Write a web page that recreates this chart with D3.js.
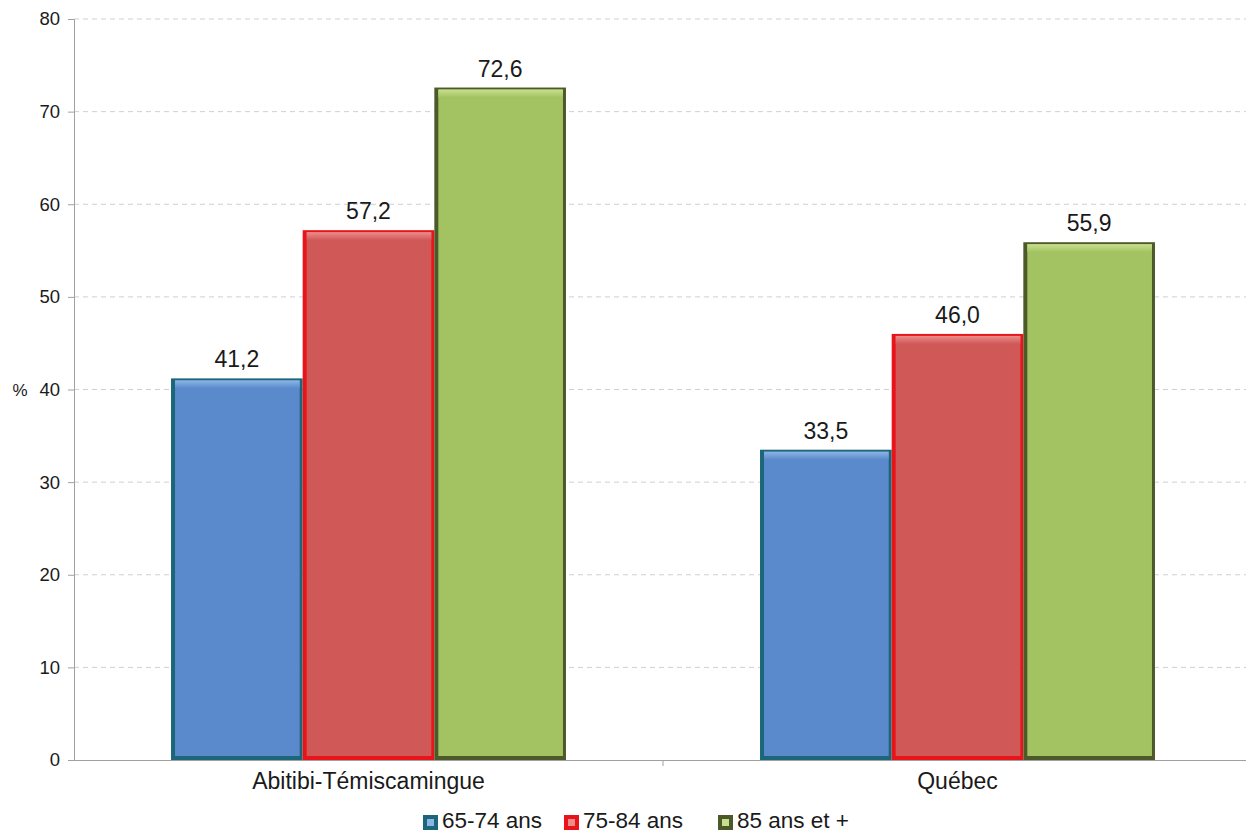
<!DOCTYPE html>
<html><head><meta charset="utf-8">
<script src="https://d3js.org/d3.v7.min.js"></script>
<style>body{margin:0;background:#fff;font-family:Arial,"Liberation Sans",sans-serif;}</style>
</head><body>
<svg id="c" width="1246" height="832"></svg>
<script>
const categories = ["Abitibi-Témiscamingue", "Québec"];
const seriesNames = ["65-74 ans", "75-84 ans", "85 ans et +"];
const values65 = [41.2, 33.5];
const values75 = [57.2, 46.0];
const values85 = [72.6, 55.9];
const yTicks = [0, 10, 20, 30, 40, 50, 60, 70, 80];

const series = [values65, values75, values85];
const fills = ["#5a8acb", "#d05958", "#a3c262"];
const borders = ["#1b6678", "#e8141a", "#4c5a2a"];
const lights = ["#8db4e6", "#ec8c8a", "#c8e08e"];
const FONT = "Arial, Liberation Sans, sans-serif";

const svg = d3.select("#c");
const m = {l: 74, r: 1252, t: 19, b: 760};
const x0 = d3.scaleBand().domain(categories).range([m.l, m.r]).paddingInner(0).paddingOuter(0);
const x1 = d3.scaleBand().domain(d3.range(3)).range([0, x0.bandwidth()]).paddingInner(0).paddingOuter(0.737);
const y = d3.scaleLinear().domain([0, 80]).range([m.b, m.t]);

const defs = svg.append("defs");
fills.forEach((f, i) => {
  const g = defs.append("linearGradient").attr("id", "top" + i).attr("x1", 0).attr("x2", 0).attr("y1", 0).attr("y2", 1);
  g.append("stop").attr("offset", 0).attr("stop-color", lights[i]);
  g.append("stop").attr("offset", 1).attr("stop-color", f);
});

// grid
svg.append("g").selectAll("line").data(yTicks.filter(d => d > 0)).join("line")
  .attr("x1", m.l).attr("x2", m.r).attr("y1", d => y(d)).attr("y2", d => y(d))
  .attr("stroke", "#d0d0d0").attr("stroke-dasharray", "5,4").attr("stroke-width", 1);

// y axis
const ya = svg.append("g").attr("transform", `translate(${m.l},0)`)
  .call(d3.axisLeft(y).tickValues(yTicks).tickSize(6).tickPadding(8).tickFormat(d3.format("d")));
ya.select(".domain").attr("stroke", "#a0a0a0");
ya.selectAll(".tick line").attr("stroke", "#a0a0a0");
ya.selectAll("text").attr("font-size", 18.5).attr("fill", "#1a1a1a").attr("font-family", FONT);

svg.append("text").attr("x", 20).attr("y", y(40) + 6).attr("text-anchor", "middle")
  .attr("font-size", 17).attr("font-family", FONT).attr("fill", "#1a1a1a").text("%");

// x axis
const xa = svg.append("g").attr("transform", `translate(0,${m.b})`)
  .call(d3.axisBottom(x0).tickSize(0).tickPadding(13));
xa.select(".domain").attr("stroke", "#a0a0a0");
xa.selectAll("text").attr("font-size", 23).attr("fill", "#1a1a1a").attr("font-family", FONT);
svg.append("line").attr("x1", x0(categories[1])).attr("x2", x0(categories[1]))
  .attr("y1", m.b).attr("y2", m.b + 6).attr("stroke", "#a0a0a0");

// bars
const data = [];
categories.forEach((c, ci) => series.forEach((s, si) => data.push({c, si, v: s[ci]})));
const bars = svg.append("g").selectAll("g").data(data).join("g");
bars.each(function(d) {
  const g = d3.select(this);
  const bx = x0(d.c) + x1(d.si), bw = x1.bandwidth();
  const by = y(d.v), bh = m.b - by;
  g.append("rect").attr("x", bx).attr("y", by).attr("width", bw).attr("height", bh).attr("fill", borders[d.si]);
  g.append("rect").attr("x", bx + 4).attr("y", by + 2).attr("width", bw - 7).attr("height", bh - 6).attr("fill", fills[d.si]);
  g.append("rect").attr("x", bx + 4).attr("y", by + 2).attr("width", bw - 7).attr("height", 8).attr("fill", `url(#top${d.si})`);
  g.append("text").attr("x", bx + bw / 2).attr("y", by - 11).attr("text-anchor", "middle")
    .attr("font-size", 23).attr("font-family", FONT).attr("fill", "#1a1a1a").text(d3.format(".1f")(d.v).replace(".", ","));
});

// legend
const legX = [423, 564, 718];
const lg = svg.append("g").selectAll("g").data(seriesNames).join("g")
  .attr("transform", (d, i) => `translate(${legX[i]},815)`);
lg.append("rect").attr("width", 15).attr("height", 15).attr("fill", (d, i) => borders[i]);
lg.append("rect").attr("x", 4).attr("y", 4).attr("width", 7).attr("height", 7).attr("fill", (d, i) => lights[i]);
lg.append("text").attr("x", 19).attr("y", 13).attr("font-size", 22.5).attr("font-family", FONT).attr("fill", "#1a1a1a").text(d => d);
</script>
</body></html>
